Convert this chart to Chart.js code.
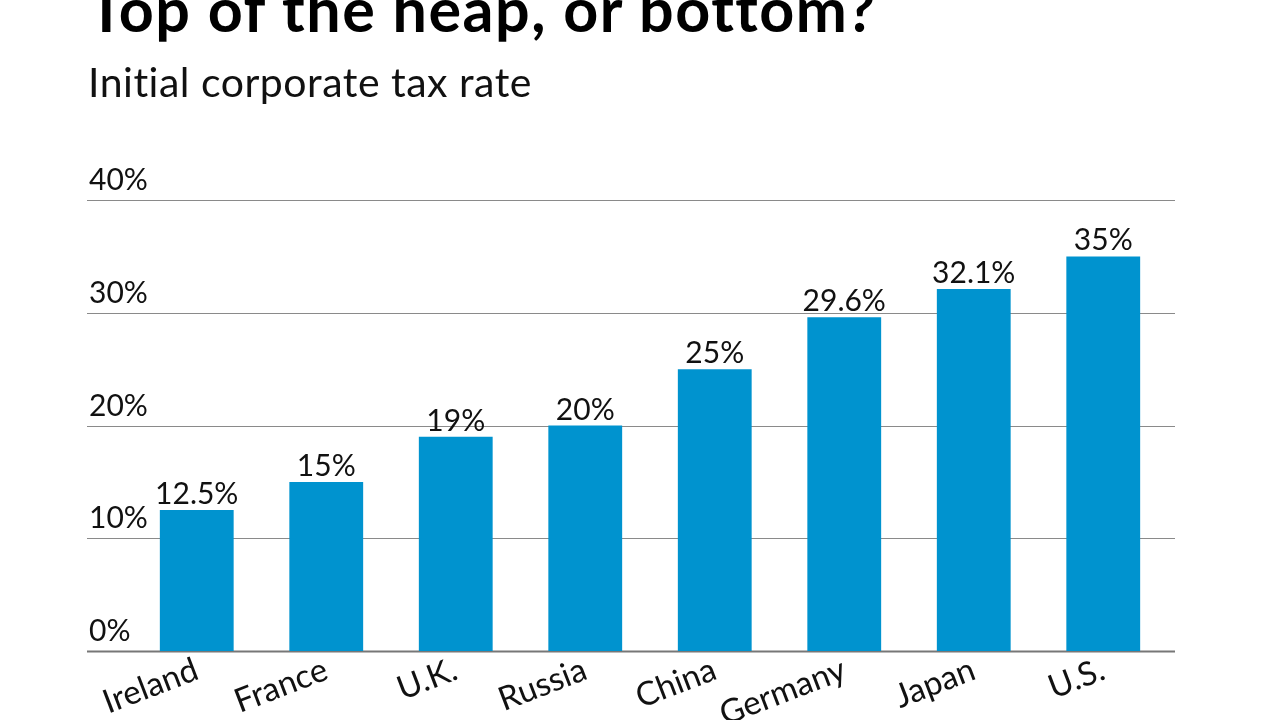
<!DOCTYPE html>
<html>
<head>
<meta charset="utf-8">
<script src="https://cdn.jsdelivr.net/npm/chart.js@4.4.1/dist/chart.umd.min.js"></script>
<style>
    html, body { margin: 0; padding: 0; background: #fff; overflow: hidden; }
    #wrap { position: relative; width: 1280px; height: 720px; font-family: Lato, "Open Sans", sans-serif; }
    #title { position: absolute; left: 88px; top: -22px; font-size: 61px; font-weight: 700; color: #000; white-space: nowrap; line-height: 1; letter-spacing: 1.5px; }
    #subtitle { position: absolute; left: 88px; top: 61px; font-size: 41px; font-weight: 400; color: #111; white-space: nowrap; line-height: 1; letter-spacing: 0.5px; }
    #chartBox { position: absolute; left: 0; top: 0; width: 1280px; height: 720px; }
</style>
</head>
<body>
<div id="wrap">
    <div id="chartBox"><canvas id="taxChart" width="1280" height="720"></canvas></div>
    <div id="title">Top of the heap, or bottom?</div>
    <div id="subtitle">Initial corporate tax rate</div>
</div>
<script>
// Chart data
const countries = ['Ireland', 'France', 'U.K.', 'Russia', 'China', 'Germany', 'Japan', 'U.S.'];
const taxRates = [12.5, 15, 19, 20, 25, 29.6, 32.1, 35];
const yTicks = [0, 10, 20, 30, 40];

const barColor = '#0093cf';
const fontFamily = 'Lato, "Open Sans", sans-serif';

// Draws the wide gridlines, y labels above them and the value labels on the bars
const decorPlugin = {
    id: 'decor',
    beforeDatasetsDraw(chart) {
        const ctx = chart.ctx;
        const y = chart.scales.y;
        ctx.save();
        yTicks.forEach(function (t) {
            const py = Math.round(y.getPixelForValue(t));
            ctx.beginPath();
            if (t === 0) {
                ctx.strokeStyle = '#777';
                ctx.lineWidth = 2;
            } else {
                ctx.strokeStyle = '#8a8a8a';
                ctx.lineWidth = 1;
            }
            ctx.moveTo(87, py + 0.5);
            ctx.lineTo(1175, py + 0.5);
            ctx.stroke();

            ctx.fillStyle = '#111';
            ctx.font = '30px ' + fontFamily;
            ctx.textAlign = 'left';
            ctx.textBaseline = 'alphabetic';
            ctx.fillText(t + '%', 89, py - 10);
        });
        ctx.restore();
    },
    afterDatasetsDraw(chart) {
        const ctx = chart.ctx;
        const meta = chart.getDatasetMeta(0);
        ctx.save();
        ctx.fillStyle = '#111';
        ctx.font = '30px ' + fontFamily;
        ctx.textAlign = 'center';
        ctx.textBaseline = 'alphabetic';
        meta.data.forEach(function (bar, i) {
            ctx.fillText(taxRates[i] + '%', bar.x, bar.y - 6);
        });
        ctx.restore();
    }
};

const ctxTax = document.getElementById('taxChart').getContext('2d');
const taxChart = new Chart(ctxTax, {
    type: 'bar',
    data: {
        labels: countries,
        datasets: [{
            label: 'Initial corporate tax rate',
            data: taxRates,
            backgroundColor: barColor,
            borderWidth: 0,
            barPercentage: 0.57,
            categoryPercentage: 1
        }]
    },
    options: {
        responsive: false,
        animation: false,
        layout: {
            padding: { left: 132, right: 112, top: 200, bottom: 0 }
        },
        plugins: {
            legend: { display: false },
            tooltip: { enabled: false },
            title: { display: false }
        },
        scales: {
            x: {
                grid: { display: false },
                border: { display: false },
                ticks: {
                    color: '#111',
                    font: { family: fontFamily, size: 33 },
                    minRotation: 21,
                    maxRotation: 21,
                    padding: -9,
                    autoSkip: false
                },
                afterFit(scale) { scale.height = 69; }
            },
            y: {
                display: false,
                min: 0,
                max: 40
            }
        }
    },
    plugins: [decorPlugin]
});
</script>
</body>
</html>
